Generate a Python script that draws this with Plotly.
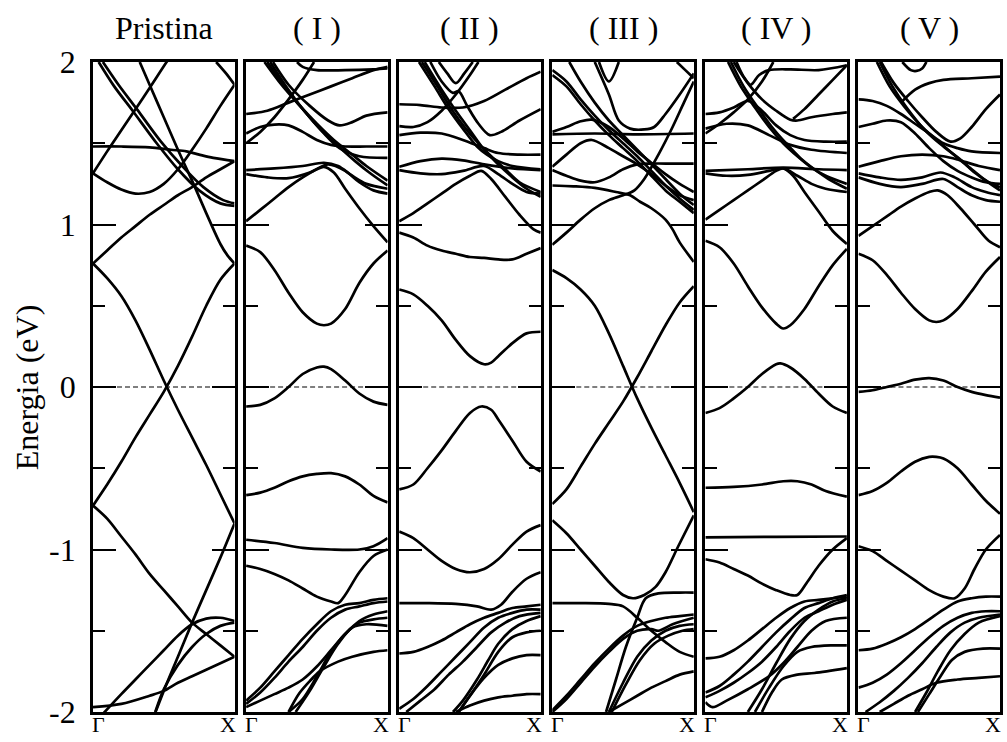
import plotly.graph_objects as go

# ---------------- data ----------------
PANEL_TITLES = ["Pristina", "( I )", "( II )", "( III )", "( IV )", "( V )"]
KPOINT_LABELS = ["Γ", "X"]
FERMI_LEVEL = 0.0
Y_RANGE = [-2, 2]
Y_TICKS = [-2, -1, 0, 1, 2]
Y_TICK_TEXT = ["-2", "-1", "0", "1", "2"]
Y_MINOR_TICKS = [-1.5, -0.5, 0.5, 1.5]
Y_TITLE = "Energia (eV)"

# each band: list of (k, E) with k in [0 (Γ), 1 (X)], E in eV
PRISTINA = [
    [(0, 1.315), (0.1, 1.45), (0.2, 1.58), (0.3, 1.71), (0.4, 1.84), (0.52, 2.0), (0.6, 2.1)],
    [(0, 1.315), (0.1, 1.26), (0.2, 1.215), (0.3, 1.19), (0.4, 1.2), (0.5, 1.25), (0.6, 1.34), (0.7, 1.46), (0.8, 1.59), (0.9, 1.73), (1, 1.86)],
    [(0, 1.48), (0.2, 1.48), (0.4, 1.475), (0.55, 1.46), (0.66, 1.45), (0.75, 1.43), (0.85, 1.41), (1, 1.39)],
    [(0, 0.76), (0.1, 0.84), (0.2, 0.92), (0.3, 0.99), (0.4, 1.06), (0.5, 1.12), (0.6, 1.18), (0.7, 1.23), (0.8, 1.29), (0.9, 1.34), (1, 1.39)],
    [(0.33, 2.0), (0.4, 1.86), (0.5, 1.66), (0.6, 1.46), (0.7, 1.27), (0.8, 1.07), (0.9, 0.88), (0.95, 0.81), (1, 0.76)],
    [(0.04, 2.0), (0.15, 1.85), (0.28, 1.7), (0.45, 1.5), (0.6, 1.34), (0.75, 1.21), (0.9, 1.13), (1, 1.115)],
    [(0.07, 2.0), (0.18, 1.86), (0.31, 1.71), (0.48, 1.51), (0.63, 1.36), (0.78, 1.23), (0.92, 1.15), (1, 1.13)],
    [(0.87, 2.0), (0.94, 1.93), (1, 1.86)],
    [(0, 0.76), (0.1, 0.67), (0.2, 0.56), (0.3, 0.41), (0.4, 0.23), (0.5, 0.04), (0.6, -0.14), (0.7, -0.31), (0.8, -0.48), (0.9, -0.66), (1, -0.84)],
    [(0, -0.73), (0.1, -0.6), (0.2, -0.46), (0.3, -0.31), (0.4, -0.17), (0.5, -0.03), (0.6, 0.13), (0.7, 0.31), (0.8, 0.5), (0.9, 0.66), (1, 0.76)],
    [(0.42, -2.05), (0.5, -1.87), (0.6, -1.66), (0.7, -1.45), (0.8, -1.25), (0.9, -1.05), (1, -0.84)],
    [(0, -0.73), (0.1, -0.81), (0.2, -0.92), (0.3, -1.03), (0.4, -1.15), (0.5, -1.25), (0.6, -1.35), (0.7, -1.45), (0.8, -1.52), (0.9, -1.59), (1, -1.66)],
    [(0.05, -2.03), (0.2, -1.89), (0.3, -1.8), (0.4, -1.71), (0.5, -1.62), (0.6, -1.53), (0.7, -1.46), (0.8, -1.425), (0.9, -1.42), (1, -1.44)],
    [(0.44, -2.0), (0.5, -1.86), (0.6, -1.71), (0.7, -1.6), (0.8, -1.52), (0.9, -1.47), (1, -1.45)],
    [(0, -1.97), (0.2, -1.95), (0.4, -1.9), (0.5, -1.87), (0.6, -1.82), (0.7, -1.78), (0.8, -1.74), (0.9, -1.7), (1, -1.66)],
]

CASE_I = [
    [(0, 1.02), (0.1, 1.09), (0.2, 1.16), (0.3, 1.23), (0.4, 1.29), (0.5, 1.34), (0.55, 1.355), (0.62, 1.32), (0.7, 1.22), (0.8, 1.1), (0.9, 0.99), (1, 0.89)],
    [(0, 1.335), (0.2, 1.345), (0.4, 1.36), (0.55, 1.38), (0.65, 1.36), (0.75, 1.3), (0.85, 1.25), (1, 1.22)],
    [(0, 1.31), (0.15, 1.29), (0.3, 1.285), (0.45, 1.32), (0.58, 1.37), (0.7, 1.33), (0.8, 1.26), (0.9, 1.21), (1, 1.19)],
    [(0, 1.5), (0.1, 1.57), (0.2, 1.66), (0.3, 1.77), (0.4, 1.89), (0.48, 2.0)],
    [(0, 1.56), (0.1, 1.6), (0.2, 1.615), (0.3, 1.61), (0.4, 1.57), (0.5, 1.52), (0.6, 1.49), (0.7, 1.48), (0.85, 1.48), (1, 1.48)],
    [(0, 1.68), (0.15, 1.7), (0.3, 1.75), (0.45, 1.8), (0.6, 1.85), (0.75, 1.9), (0.9, 1.95), (1, 1.97)],
    [(0.13, 2.0), (0.25, 1.86), (0.37, 1.74), (0.5, 1.62), (0.62, 1.52), (0.75, 1.43), (0.85, 1.36), (1, 1.27)],
    [(0.15, 2.0), (0.27, 1.85), (0.39, 1.72), (0.52, 1.59), (0.64, 1.49), (0.77, 1.39), (0.87, 1.32), (1, 1.24)],
    [(0.17, 2.0), (0.29, 1.84), (0.41, 1.7), (0.54, 1.57), (0.66, 1.47), (0.8, 1.42), (1, 1.41)],
    [(0.19, 2.0), (0.3, 1.86), (0.45, 1.73), (0.58, 1.64), (0.66, 1.61), (0.75, 1.63), (0.85, 1.67), (1, 1.69)],
    [(0.36, 2.0), (0.4, 1.97), (0.5, 1.95), (0.7, 1.95), (0.9, 1.955), (1, 1.96)],
    [(0, 0.87), (0.1, 0.83), (0.2, 0.72), (0.3, 0.58), (0.4, 0.46), (0.5, 0.39), (0.55, 0.38), (0.6, 0.39), (0.7, 0.48), (0.8, 0.64), (0.9, 0.76), (1, 0.84)],
    [(0, -0.12), (0.1, -0.11), (0.2, -0.07), (0.3, 0.0), (0.4, 0.08), (0.5, 0.12), (0.55, 0.125), (0.6, 0.11), (0.7, 0.04), (0.8, -0.04), (0.9, -0.09), (1, -0.11)],
    [(0, -0.665), (0.1, -0.65), (0.2, -0.62), (0.3, -0.58), (0.4, -0.55), (0.5, -0.535), (0.6, -0.53), (0.7, -0.55), (0.8, -0.6), (0.9, -0.67), (1, -0.71)],
    [(0, -0.94), (0.2, -0.96), (0.4, -0.99), (0.6, -1.0), (0.8, -1.0), (0.9, -0.98), (1, -0.93)],
    [(0, -1.1), (0.1, -1.12), (0.2, -1.15), (0.3, -1.19), (0.4, -1.24), (0.5, -1.29), (0.6, -1.32), (0.65, -1.33), (0.7, -1.28), (0.8, -1.14), (0.9, -1.04), (1, -1.0)],
    [(0, -1.93), (0.1, -1.85), (0.2, -1.75), (0.3, -1.65), (0.4, -1.55), (0.5, -1.46), (0.6, -1.38), (0.7, -1.34), (0.8, -1.33), (0.9, -1.31), (1, -1.3)],
    [(0, -1.95), (0.1, -1.88), (0.2, -1.79), (0.3, -1.69), (0.4, -1.6), (0.5, -1.5), (0.6, -1.42), (0.7, -1.37), (0.8, -1.35), (0.9, -1.33), (1, -1.32)],
    [(0, -1.97), (0.1, -1.93), (0.2, -1.89), (0.3, -1.85), (0.4, -1.8), (0.5, -1.72), (0.6, -1.62), (0.7, -1.52), (0.8, -1.44), (0.9, -1.4), (1, -1.38)],
    [(0.3, -2.0), (0.4, -1.92), (0.5, -1.78), (0.6, -1.63), (0.7, -1.52), (0.8, -1.45), (0.9, -1.43), (1, -1.42)],
    [(0.35, -2.0), (0.45, -1.87), (0.55, -1.72), (0.65, -1.58), (0.75, -1.48), (0.85, -1.46), (1, -1.47)],
    [(0.3, -2.0), (0.376, -1.885), (0.45, -1.81), (0.52, -1.75), (0.65, -1.69), (0.75, -1.66), (0.9, -1.63), (1, -1.62)],
]

CASE_II = [
    [(0, 1.02), (0.1, 1.07), (0.2, 1.13), (0.3, 1.19), (0.4, 1.25), (0.5, 1.3), (0.58, 1.33), (0.65, 1.28), (0.75, 1.17), (0.85, 1.06), (0.95, 0.97), (1, 0.95)],
    [(0, 1.355), (0.15, 1.39), (0.3, 1.405), (0.45, 1.395), (0.6, 1.37), (0.8, 1.345), (1, 1.335)],
    [(0, 1.335), (0.15, 1.315), (0.3, 1.31), (0.45, 1.33), (0.6, 1.36), (0.7, 1.31), (0.8, 1.25), (0.9, 1.2), (1, 1.19)],
    [(0, 1.55), (0.15, 1.565), (0.3, 1.56), (0.45, 1.52), (0.6, 1.47), (0.7, 1.44), (0.85, 1.43), (1, 1.43)],
    [(0, 1.605), (0.1, 1.6), (0.2, 1.63), (0.3, 1.7), (0.4, 1.8), (0.5, 1.92), (0.56, 2.0)],
    [(0, 1.74), (0.15, 1.735), (0.3, 1.72), (0.45, 1.72), (0.6, 1.76), (0.75, 1.83), (0.9, 1.9), (1, 1.94)],
    [(0.14, 2.0), (0.25, 1.85), (0.35, 1.71), (0.45, 1.59), (0.55, 1.48), (0.62, 1.43), (0.7, 1.39), (0.8, 1.36), (1, 1.34)],
    [(0.16, 2.0), (0.27, 1.85), (0.37, 1.71), (0.47, 1.59), (0.57, 1.49), (0.65, 1.42), (0.75, 1.34), (0.85, 1.26), (1, 1.2)],
    [(0.18, 2.0), (0.3, 1.83), (0.4, 1.7), (0.5, 1.58), (0.6, 1.46), (0.7, 1.37), (0.8, 1.29), (0.9, 1.22), (1, 1.17)],
    [(0.22, 2.0), (0.3, 1.88), (0.38, 1.81), (0.42, 1.82), (0.48, 1.73), (0.56, 1.62), (0.64, 1.55), (0.72, 1.57), (0.85, 1.64), (1, 1.71)],
    [(0.28, 2.0), (0.34, 1.93), (0.4, 1.87), (0.46, 1.93), (0.52, 2.0)],
    [(0, 0.95), (0.1, 0.92), (0.2, 0.87), (0.3, 0.84), (0.4, 0.82), (0.5, 0.8), (0.6, 0.795), (0.7, 0.785), (0.8, 0.785), (0.9, 0.82), (1, 0.855)],
    [(0, 0.6), (0.1, 0.57), (0.2, 0.5), (0.3, 0.41), (0.4, 0.29), (0.5, 0.19), (0.6, 0.14), (0.65, 0.15), (0.7, 0.19), (0.8, 0.27), (0.9, 0.33), (1, 0.34)],
    [(0, -0.63), (0.1, -0.6), (0.2, -0.5), (0.3, -0.39), (0.4, -0.27), (0.5, -0.16), (0.58, -0.12), (0.65, -0.14), (0.7, -0.2), (0.8, -0.33), (0.9, -0.46), (1, -0.52)],
    [(0, -0.89), (0.1, -0.93), (0.2, -1.0), (0.3, -1.07), (0.4, -1.12), (0.5, -1.14), (0.6, -1.12), (0.7, -1.06), (0.8, -0.97), (0.9, -0.89), (1, -0.85)],
    [(0, -1.33), (0.2, -1.33), (0.4, -1.335), (0.55, -1.35), (0.65, -1.37), (0.72, -1.34), (0.8, -1.26), (0.9, -1.18), (1, -1.14)],
    [(0, -1.64), (0.1, -1.63), (0.2, -1.6), (0.3, -1.56), (0.4, -1.51), (0.5, -1.46), (0.6, -1.42), (0.7, -1.39), (0.8, -1.36), (0.9, -1.35), (1, -1.34)],
    [(0, -1.98), (0.1, -1.92), (0.2, -1.84), (0.3, -1.75), (0.4, -1.66), (0.5, -1.57), (0.6, -1.48), (0.7, -1.42), (0.8, -1.39), (0.9, -1.37), (1, -1.37)],
    [(0.05, -2.0), (0.15, -1.93), (0.25, -1.86), (0.35, -1.77), (0.45, -1.69), (0.55, -1.6), (0.65, -1.51), (0.75, -1.45), (0.85, -1.41), (1, -1.39)],
    [(0.38, -2.0), (0.45, -1.93), (0.55, -1.8), (0.63, -1.68), (0.7, -1.58), (0.8, -1.49), (0.9, -1.44), (1, -1.41)],
    [(0.42, -2.0), (0.5, -1.9), (0.6, -1.77), (0.7, -1.63), (0.8, -1.54), (0.9, -1.51), (1, -1.5)],
    [(0.42, -2.0), (0.5, -1.9), (0.6, -1.79), (0.7, -1.71), (0.8, -1.67), (0.9, -1.65), (1, -1.65)],
    [(0.4, -2.0), (0.5, -1.96), (0.6, -1.93), (0.7, -1.91), (0.8, -1.9), (0.9, -1.89), (1, -1.89)],
]

CASE_III = [
    [(0, 0.875), (0.1, 0.95), (0.2, 1.03), (0.3, 1.1), (0.4, 1.15), (0.5, 1.18), (0.58, 1.21), (0.65, 1.28), (0.75, 1.43), (0.85, 1.6), (0.93, 1.75), (1, 1.88)],
    [(0, 1.24), (0.15, 1.235), (0.3, 1.225), (0.45, 1.2), (0.55, 1.18), (0.62, 1.14), (0.7, 1.1), (0.8, 1.03), (0.85, 0.97), (0.9, 0.89), (1, 0.77)],
    [(0, 1.355), (0.1, 1.43), (0.2, 1.5), (0.28, 1.52), (0.4, 1.47), (0.5, 1.42), (0.6, 1.37), (0.7, 1.31), (0.8, 1.24), (0.9, 1.18), (1, 1.15)],
    [(0, 1.335), (0.1, 1.3), (0.2, 1.27), (0.3, 1.26), (0.4, 1.29), (0.5, 1.34), (0.6, 1.37), (0.7, 1.375), (0.85, 1.375), (1, 1.375)],
    [(0, 1.57), (0.1, 1.6), (0.2, 1.635), (0.28, 1.645), (0.4, 1.6), (0.5, 1.53), (0.6, 1.45), (0.7, 1.38), (0.8, 1.31), (0.9, 1.25), (1, 1.2)],
    [(0, 1.555), (0.3, 1.56), (0.6, 1.555), (1, 1.56)],
    [(0.3, 2.0), (0.4, 1.8), (0.47, 1.64), (0.55, 1.59), (0.65, 1.585), (0.72, 1.6), (0.8, 1.68), (0.9, 1.8), (1, 1.93)],
    [(0, 1.95), (0.1, 1.88), (0.2, 1.77), (0.3, 1.67), (0.4, 1.58), (0.5, 1.5), (0.6, 1.42), (0.7, 1.33), (0.8, 1.24), (0.9, 1.16), (1, 1.09)],
    [(0, 1.92), (0.1, 1.85), (0.2, 1.74), (0.3, 1.64), (0.4, 1.55), (0.5, 1.47), (0.6, 1.39), (0.7, 1.3), (0.8, 1.21), (0.9, 1.14), (1, 1.07)],
    [(0.12, 2.0), (0.2, 1.88), (0.3, 1.75), (0.4, 1.64), (0.5, 1.55), (0.6, 1.46), (0.7, 1.37), (0.8, 1.28), (0.9, 1.19), (1, 1.12)],
    [(0.33, 2.0), (0.4, 1.88), (0.47, 2.0)],
    [(0.88, 2.0), (0.94, 1.95), (1, 1.9)],
    [(0, 0.72), (0.1, 0.67), (0.2, 0.6), (0.3, 0.5), (0.4, 0.33), (0.5, 0.13), (0.6, -0.07), (0.7, -0.25), (0.8, -0.42), (0.9, -0.59), (1, -0.77)],
    [(0, -0.72), (0.1, -0.63), (0.2, -0.49), (0.3, -0.35), (0.4, -0.22), (0.5, -0.09), (0.6, 0.06), (0.7, 0.22), (0.8, 0.38), (0.9, 0.52), (1, 0.62)],
    [(0, -0.82), (0.1, -0.9), (0.2, -1.0), (0.3, -1.1), (0.4, -1.2), (0.5, -1.28), (0.57, -1.3), (0.65, -1.28), (0.73, -1.23), (0.8, -1.14), (0.89, -0.98), (1, -0.79)],
    [(0, -1.33), (0.2, -1.33), (0.4, -1.335), (0.5, -1.35), (0.6, -1.42), (0.7, -1.5), (0.8, -1.57), (0.9, -1.63), (1, -1.66)],
    [(0.38, -2.0), (0.45, -1.8), (0.52, -1.6), (0.6, -1.42), (0.66, -1.3), (0.75, -1.27), (0.9, -1.265), (1, -1.265)],
    [(0, -1.99), (0.1, -1.9), (0.2, -1.8), (0.3, -1.7), (0.4, -1.61), (0.5, -1.53), (0.6, -1.47), (0.7, -1.44), (0.8, -1.42), (0.9, -1.41), (1, -1.4)],
    [(0, -2.0), (0.1, -1.92), (0.2, -1.82), (0.3, -1.72), (0.4, -1.63), (0.5, -1.55), (0.6, -1.5), (0.7, -1.49), (0.75, -1.5), (0.85, -1.46), (1, -1.42)],
    [(0.4, -2.0), (0.5, -1.82), (0.6, -1.66), (0.7, -1.56), (0.8, -1.5), (0.9, -1.47), (1, -1.46)],
    [(0.42, -2.0), (0.52, -1.83), (0.62, -1.68), (0.72, -1.58), (0.82, -1.53), (0.92, -1.5), (1, -1.49)],
    [(0.4, -2.0), (0.5, -1.95), (0.6, -1.9), (0.7, -1.85), (0.8, -1.81), (0.9, -1.77), (1, -1.75)],
]

CASE_IV = [
    [(0, 1.03), (0.1, 1.09), (0.2, 1.15), (0.3, 1.21), (0.4, 1.27), (0.5, 1.33), (0.55, 1.345), (0.62, 1.3), (0.7, 1.2), (0.8, 1.08), (0.9, 0.96), (1, 0.88)],
    [(0, 1.33), (0.3, 1.34), (0.55, 1.35), (0.8, 1.34), (1, 1.335)],
    [(0, 1.315), (0.15, 1.3), (0.3, 1.305), (0.45, 1.33), (0.55, 1.345), (0.65, 1.3), (0.75, 1.25), (0.85, 1.22), (1, 1.2)],
    [(0, 1.56), (0.1, 1.62), (0.2, 1.69), (0.3, 1.77), (0.4, 1.88), (0.48, 2.0)],
    [(0, 1.68), (0.1, 1.69), (0.2, 1.72), (0.3, 1.76), (0.4, 1.7), (0.5, 1.61), (0.6, 1.55), (0.7, 1.52), (0.85, 1.51), (1, 1.51)],
    [(0, 1.59), (0.15, 1.62), (0.3, 1.61), (0.45, 1.55), (0.6, 1.49), (0.75, 1.46), (1, 1.44)],
    [(0.16, 2.0), (0.25, 1.85), (0.35, 1.72), (0.45, 1.6), (0.55, 1.5), (0.65, 1.42), (0.75, 1.35), (0.85, 1.3), (1, 1.25)],
    [(0.18, 2.0), (0.27, 1.85), (0.37, 1.72), (0.47, 1.6), (0.57, 1.5), (0.67, 1.41), (0.77, 1.34), (0.87, 1.28), (1, 1.22)],
    [(0.22, 2.0), (0.27, 1.91), (0.32, 1.86), (0.38, 1.92), (0.45, 1.95), (0.6, 1.955), (0.8, 1.95), (1, 1.98)],
    [(0.2, 2.0), (0.3, 1.87), (0.4, 1.77), (0.5, 1.7), (0.6, 1.645), (0.65, 1.64), (0.75, 1.66), (0.9, 1.68), (1, 1.69)],
    [(0.62, 1.65), (0.7, 1.71), (0.8, 1.8), (0.9, 1.89), (1, 1.98)],
    [(0, 0.9), (0.1, 0.86), (0.2, 0.76), (0.3, 0.62), (0.4, 0.49), (0.5, 0.39), (0.55, 0.36), (0.6, 0.38), (0.7, 0.48), (0.8, 0.62), (0.9, 0.75), (1, 0.85)],
    [(0, -0.16), (0.1, -0.13), (0.2, -0.07), (0.3, 0.0), (0.4, 0.08), (0.5, 0.14), (0.53, 0.145), (0.6, 0.12), (0.7, 0.05), (0.8, -0.04), (0.9, -0.12), (1, -0.16)],
    [(0, -0.62), (0.2, -0.615), (0.4, -0.6), (0.55, -0.58), (0.65, -0.58), (0.75, -0.6), (0.85, -0.64), (1, -0.675)],
    [(0, -0.925), (0.5, -0.922), (1, -0.92)],
    [(0, -1.06), (0.1, -1.08), (0.2, -1.12), (0.3, -1.16), (0.4, -1.21), (0.5, -1.25), (0.6, -1.28), (0.65, -1.28), (0.72, -1.2), (0.8, -1.1), (0.9, -1.0), (1, -0.93)],
    [(0, -1.67), (0.1, -1.66), (0.2, -1.62), (0.3, -1.56), (0.4, -1.49), (0.5, -1.42), (0.6, -1.36), (0.7, -1.32), (0.8, -1.31), (0.9, -1.3), (1, -1.29)],
    [(0, -1.88), (0.1, -1.84), (0.2, -1.77), (0.3, -1.69), (0.4, -1.6), (0.5, -1.51), (0.6, -1.43), (0.7, -1.36), (0.8, -1.33), (0.9, -1.3), (1, -1.28)],
    [(0, -1.91), (0.1, -1.87), (0.2, -1.82), (0.3, -1.76), (0.4, -1.69), (0.5, -1.6), (0.6, -1.5), (0.7, -1.42), (0.8, -1.38), (0.9, -1.34), (1, -1.31)],
    [(0, -1.94), (0.05, -1.97), (0.15, -1.93), (0.3, -1.86), (0.45, -1.78), (0.55, -1.7), (0.65, -1.6), (0.75, -1.5), (0.85, -1.44), (1, -1.42)],
    [(0.3, -2.0), (0.4, -1.86), (0.5, -1.7), (0.6, -1.55), (0.7, -1.44), (0.8, -1.37), (0.9, -1.32), (1, -1.3)],
    [(0.4, -2.0), (0.47, -1.88), (0.54, -1.8), (0.65, -1.77), (0.77, -1.76), (1, -1.73)],
    [(0.35, -2.0), (0.45, -1.85), (0.55, -1.72), (0.65, -1.63), (0.75, -1.6), (0.9, -1.59), (1, -1.59)],
]

CASE_V = [
    [(0, 0.93), (0.1, 0.99), (0.2, 1.05), (0.3, 1.11), (0.4, 1.16), (0.5, 1.2), (0.56, 1.21), (0.63, 1.18), (0.72, 1.1), (0.82, 1.0), (0.92, 0.9), (1, 0.86)],
    [(0, 1.355), (0.15, 1.39), (0.3, 1.42), (0.45, 1.43), (0.6, 1.42), (0.7, 1.4), (0.85, 1.36), (1, 1.335)],
    [(0, 1.315), (0.15, 1.29), (0.3, 1.275), (0.45, 1.29), (0.58, 1.32), (0.68, 1.29), (0.8, 1.23), (0.9, 1.2), (1, 1.18)],
    [(0, 1.29), (0.15, 1.25), (0.3, 1.23), (0.45, 1.25), (0.6, 1.28), (0.7, 1.23), (0.8, 1.18), (0.9, 1.15), (1, 1.14)],
    [(0, 1.6), (0.1, 1.62), (0.2, 1.64), (0.3, 1.63), (0.4, 1.56), (0.5, 1.47), (0.6, 1.39), (0.7, 1.33), (0.8, 1.29), (0.9, 1.26), (1, 1.25)],
    [(0, 1.77), (0.1, 1.76), (0.2, 1.73), (0.3, 1.68), (0.4, 1.62), (0.5, 1.56), (0.6, 1.5), (0.7, 1.47), (0.8, 1.45), (1, 1.44)],
    [(0.13, 2.0), (0.22, 1.85), (0.32, 1.73), (0.45, 1.6), (0.58, 1.5), (0.7, 1.41), (0.8, 1.34), (0.9, 1.27), (1, 1.21)],
    [(0.15, 2.0), (0.24, 1.85), (0.34, 1.72), (0.47, 1.58), (0.6, 1.48), (0.72, 1.4), (0.82, 1.32), (0.92, 1.26), (1, 1.23)],
    [(0.16, 2.0), (0.25, 1.87), (0.35, 1.76), (0.45, 1.66), (0.55, 1.57), (0.65, 1.51), (0.72, 1.53), (0.8, 1.6), (0.9, 1.71), (1, 1.8)],
    [(0.3, 1.75), (0.4, 1.83), (0.5, 1.87), (0.6, 1.89), (0.8, 1.9), (1, 1.91)],
    [(0.31, 2.0), (0.37, 1.95), (0.41, 1.945), (0.45, 1.96), (0.48, 2.0)],
    [(0, 0.82), (0.1, 0.78), (0.2, 0.69), (0.3, 0.58), (0.4, 0.48), (0.5, 0.41), (0.55, 0.4), (0.6, 0.41), (0.7, 0.48), (0.8, 0.59), (0.9, 0.71), (1, 0.8)],
    [(0, -0.03), (0.1, -0.02), (0.2, 0.0), (0.3, 0.02), (0.4, 0.045), (0.5, 0.055), (0.6, 0.04), (0.7, 0.0), (0.8, -0.03), (0.9, -0.05), (1, -0.065)],
    [(0, -0.665), (0.1, -0.64), (0.2, -0.59), (0.3, -0.52), (0.4, -0.46), (0.5, -0.43), (0.55, -0.43), (0.6, -0.44), (0.7, -0.5), (0.8, -0.6), (0.9, -0.7), (1, -0.78)],
    [(0, -0.98), (0.1, -1.01), (0.2, -1.07), (0.3, -1.13), (0.4, -1.19), (0.5, -1.25), (0.6, -1.29), (0.68, -1.3), (0.75, -1.24), (0.82, -1.12), (0.9, -1.0), (1, -0.91)],
    [(0, -1.62), (0.1, -1.61), (0.2, -1.58), (0.3, -1.54), (0.4, -1.49), (0.5, -1.43), (0.6, -1.37), (0.7, -1.32), (0.8, -1.3), (0.9, -1.29), (1, -1.29)],
    [(0, -1.85), (0.1, -1.82), (0.2, -1.77), (0.3, -1.7), (0.4, -1.62), (0.5, -1.54), (0.6, -1.47), (0.7, -1.42), (0.8, -1.39), (0.9, -1.38), (1, -1.38)],
    [(0.05, -2.0), (0.15, -1.94), (0.25, -1.87), (0.35, -1.79), (0.45, -1.7), (0.55, -1.6), (0.65, -1.51), (0.75, -1.45), (0.85, -1.42), (1, -1.4)],
    [(0.4, -2.0), (0.48, -1.88), (0.56, -1.75), (0.65, -1.62), (0.75, -1.52), (0.85, -1.45), (1, -1.41)],
    [(0.42, -2.0), (0.5, -1.89), (0.58, -1.78), (0.66, -1.68), (0.75, -1.63), (0.88, -1.61), (1, -1.61)],
    [(0.15, -2.0), (0.25, -1.95), (0.35, -1.9), (0.45, -1.86), (0.55, -1.82), (0.7, -1.8), (0.85, -1.79), (1, -1.78)],
]

PANELS = [PRISTINA, CASE_I, CASE_II, CASE_III, CASE_IV, CASE_V]

# ---------------- figure ----------------
W, H = 1007, 742
ML, MR, MT, MB = 93, 4, 62, 30
PW = W - ML - MR
PANEL_W_PX = 142
PANEL_STEP_PX = 153.6
FONT = "Liberation Serif, Times New Roman, serif"

fig = go.Figure()
layout_axes = {}
annotations = []

for i, bands in enumerate(PANELS):
    n = "" if i == 0 else str(i + 1)
    xa, ya = "x" + n, "y" + n
    x0 = i * PANEL_STEP_PX / PW
    x1 = min((i * PANEL_STEP_PX + PANEL_W_PX) / PW, 1.0)

    fig.add_trace(go.Scatter(
        x=[0, 1], y=[FERMI_LEVEL, FERMI_LEVEL], mode="lines",
        line=dict(color="black", width=1.2, dash="5px,3px"),
        xaxis=xa, yaxis=ya, showlegend=False, hoverinfo="skip"))
    for band in bands:
        ks = [p[0] for p in band]
        es = [p[1] for p in band]
        fig.add_trace(go.Scatter(
            x=ks, y=es, mode="lines",
            line=dict(color="black", width=2.7, shape="spline", smoothing=0.9),
            xaxis=xa, yaxis=ya, showlegend=False, hoverinfo="skip"))

    layout_axes["xaxis" + n] = dict(
        domain=[x0, x1], range=[0, 1], anchor=ya,
        showline=True, mirror=True, linewidth=2.7, linecolor="black",
        showgrid=False, zeroline=False, showticklabels=False, ticks="")
    layout_axes["yaxis" + n] = dict(
        domain=[0, 1], range=Y_RANGE, anchor=xa,
        showline=True, mirror="ticks", linewidth=2.7, linecolor="black",
        showgrid=False, zeroline=False,
        ticks="inside", ticklen=23, tickwidth=2, tickcolor="black",
        tickmode="array", tickvals=Y_TICKS, ticktext=Y_TICK_TEXT,
        showticklabels=(i == 0), ticklabelstandoff=8,
        tickfont=dict(family=FONT, size=32, color="black"),
        minor=dict(ticks="inside", ticklen=12, tickwidth=2, tickcolor="black",
                   tickmode="array", tickvals=Y_MINOR_TICKS))

    annotations.append(dict(
        text=PANEL_TITLES[i], xref=xa + " domain", x=0.5, yref="paper", y=1,
        xanchor="center", yanchor="bottom", yshift=14, showarrow=False,
        font=dict(family=FONT, size=32, color="black")))
    annotations.append(dict(
        text=KPOINT_LABELS[0], xref=xa + " domain", x=0, yref="paper", y=0,
        xanchor="left", yanchor="top", yshift=2, xshift=-3, showarrow=False,
        font=dict(family=FONT, size=22, color="black")))
    annotations.append(dict(
        text=KPOINT_LABELS[1], xref=xa + " domain", x=1, yref="paper", y=0,
        xanchor="right", yanchor="top", yshift=2, xshift=3, showarrow=False,
        font=dict(family=FONT, size=22, color="black")))

annotations.append(dict(
    text=Y_TITLE, xref="paper", x=(27 - ML) / PW, yref="paper", y=0.5,
    xanchor="center", yanchor="middle", textangle=-90, showarrow=False,
    font=dict(family=FONT, size=32, color="black")))

fig.update_layout(
    width=W, height=H,
    margin=dict(l=ML, r=MR, t=MT, b=MB),
    paper_bgcolor="white", plot_bgcolor="white",
    showlegend=False, annotations=annotations, **layout_axes)

fig.write_html("out.html")
